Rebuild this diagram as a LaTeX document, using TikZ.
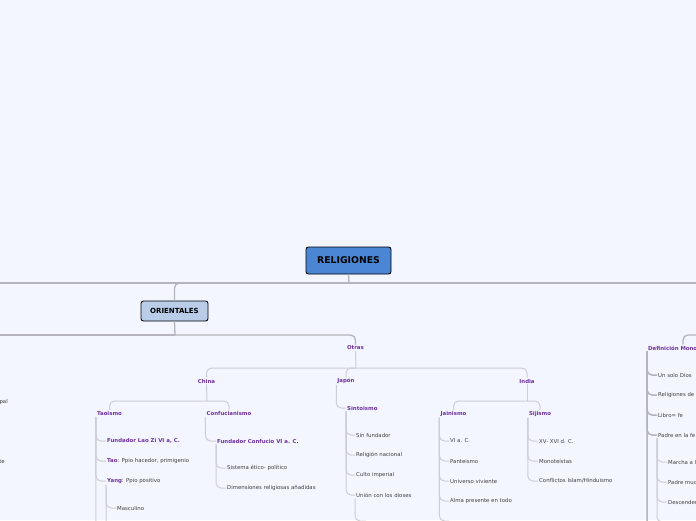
\documentclass[tikz,border=0pt]{standalone}
\usepackage{fontspec}
\setmainfont{DejaVu Sans}
\definecolor{bgc}{HTML}{F3F6FE}
\definecolor{purp}{HTML}{7030A0}
\definecolor{txt}{HTML}{404040}
\definecolor{lnmain}{HTML}{B4B4BA}
\definecolor{lnsub}{HTML}{CDCDD5}
\definecolor{relblue}{HTML}{4A86D4}
\definecolor{oriblue}{HTML}{B9CDE8}
\usetikzlibrary{positioning}

\begin{document}
\begin{tikzpicture}[x=1pt, y=-1pt,
    topic/.style={font=\fontsize{5.4}{6}\selectfont\bfseries, text=purp, inner sep=1pt},
    item/.style={font=\fontsize{5.4}{6}\selectfont, text=txt, inner sep=1pt, anchor=west},
    hub/.style={draw=black, line width=0.9pt, rounded corners=2.5pt, text=black},
    bar/.style={draw=lnmain, line width=1.3pt},
    sub/.style={draw=lnsub, line width=1pt},
    lnk/.style={draw=lnsub, line width=1pt, rounded corners=5pt}]
    % canvas
    \useasboundingbox (0,0) rectangle (696,520);
    \fill[bgc] (0,0) rectangle (696,520);
    \clip (0,0) rectangle (696,520);
    % hubs
    \node[hub, fill=relblue, minimum width=85pt, minimum height=27pt,
          font=\fontsize{9.3}{11}\selectfont\bfseries] (rel) at (348.5,260.5) {RELIGIONES};
    \node[hub, fill=oriblue, minimum width=67pt, minimum height=20pt,
          font=\fontsize{7}{8}\selectfont\bfseries] (ori) at (174.5,311) {ORIENTALES};
    % topics
    \node[topic] (otras) at (355.5,348) {Otras};
    \node[topic] (china) at (206.5,381) {China};
    \node[topic] (japon) at (346,381) {Japón};
    \node[topic] (india) at (527,381) {India};
    \node[topic] (tao) at (109.5,413.5) {Taoismo};
    \node[topic] (conf) at (229,413.5) {Confucianismo};
    \node[topic, anchor=west] (sinto) at (346,408) {Sintoismo};
    \node[topic] (jain) at (453.5,414) {Jainismo};
    \node[topic] (sij) at (540,414) {Sijismo};
    \node[topic, anchor=west] (defi) at (647,348) {Definición Monoteísmo};
    % Taoismo
    \node[topic, anchor=west] (fundlao) at (106,441) {Fundador Lao Zi VI a, C.};
    \node[item] (taot) at (106,461) {\textcolor{purp}{\bfseries Tao}: Ppio hacedor, primigenio};
    \node[item] (yang) at (106,481) {\textcolor{purp}{\bfseries Yang}: Ppio positivo};
    \node[item] (masc) at (116,508) {Masculino};
    % Confucianismo
    \node[topic, anchor=west] (fundcon) at (216,441) {Fundador Confucio VI a. C.};
    \node[item] (sist) at (226,468) {Sistema ético- político};
    \node[item] (dimen) at (226,488) {Dimensiones religiosas añadidas};
    % Sintoismo
    \node[item] (sinfun) at (355,435) {Sin fundador};
    \node[item] (relnac) at (355,455) {Religión nacional};
    \node[item] (culto) at (355,475) {Culto imperial};
    \node[item] (union) at (355,495) {Unión con los dioses};
    % Jainismo
    \node[item] (vi) at (449,441) {VI a. C.};
    \node[item] (pant) at (449,461) {Panteismo};
    \node[item] (univ) at (449,481) {Universo viviente};
    \node[item] (alma) at (449,501) {Alma presente en todo};
    % Sijismo
    \node[item] (xv) at (538,441) {XV- XVI d. C.};
    \node[item] (mono) at (538,461) {Monoteístas};
    \node[item] (confl) at (538,481) {Conflictos Islam/Hinduismo};
    % Monoteismo
    \node[item] (unsolo) at (657,375) {Un solo Dios};
    \node[item] (relde) at (657,395) {Religiones de};
    \node[item] (libro) at (657,415) {Libro= fe};
    \node[item] (padre) at (657,435) {Padre en la fe};
    \node[item] (marcha) at (667,462) {Marcha a l};
    \node[item] (padremuc) at (667,482) {Padre muc};
    \node[item] (desc) at (667,502) {Descender};
    % cut at the left edge
    \node[item, anchor=east] (pal) at (9,402) {pal};
    \node[item, anchor=east] (te) at (6,462) {te};
    % ends that leave the picture
    \coordinate (relbar) at (349,283);
    \coordinate (leftbr) at (-5,283);
    \coordinate (rightbr) at (705,283);
    \coordinate (oribar) at (175,335);
    \coordinate (orileft) at (-5,335);
    \coordinate (occbar) at (705,335);
    \coordinate (otrasbar) at (356,368);
    \coordinate (chinabar) at (207,401);
    \coordinate (indiabar) at (527,401);
    \coordinate (taomore) at (107,535);
    \coordinate (yangmore) at (117,535);
    \coordinate (unionmore) at (366,521);
    \coordinate (jainmore) at (449,521);
    \coordinate (defimore) at (657,535);
    \coordinate (padremore) at (667,522);
    % main bars
    \draw[bar] (rel.south) -- (relbar);
    \draw[bar] (relbar) -- (leftbr);
    \draw[bar] (relbar) -- (rightbr);
    \draw[bar, rounded corners=5pt] (relbar) -| (ori.north);
    \draw[bar] (ori.south) -- (oribar);
    \draw[bar] (oribar) -- (orileft);
    \draw[bar, rounded corners=5pt] (oribar) -| (otras.north);
    \draw[bar, rounded corners=5pt] (occbar) -| (defi.north);
    % Otras
    \draw[sub] (otras.south) -- (otrasbar);
    \foreach \c in {china,japon,india}
        \draw[lnk] (otrasbar) -| (\c.north);
    \draw[sub] (china.south) -- (chinabar);
    \draw[lnk] (chinabar) -| (tao.north);
    \draw[lnk] (chinabar) -| (conf.north);
    \draw[sub] (india.south) -- (indiabar);
    \draw[lnk] (indiabar) -| (jain.north);
    \draw[lnk] (indiabar) -| (sij.north);
    \draw[lnk] (japon.south west) |- (sinto.west);
    % lists
    \foreach \c in {fundlao,taot,yang,taomore}
        \draw[lnk] (tao.south west) |- (\c);
    \foreach \c in {masc,yangmore}
        \draw[lnk] (yang.south west) |- (\c);
    \draw[lnk] (conf.south west) |- (fundcon.west);
    \foreach \c in {sist,dimen}
        \draw[lnk] (fundcon.south west) |- (\c.west);
    \foreach \c in {sinfun,relnac,culto,union}
        \draw[lnk] (sinto.south west) |- (\c.west);
    \draw[lnk] (union.south west) |- (unionmore);
    \foreach \c in {vi,pant,univ,alma,jainmore}
        \draw[lnk] (jain.south west) |- (\c);
    \foreach \c in {xv,mono,confl}
        \draw[lnk] (sij.south west) |- (\c.west);
    \foreach \c in {unsolo,relde,libro,padre,defimore}
        \draw[lnk, draw=lnmain, line width=1.5pt] (defi.south west) |- (\c);
    \foreach \c in {marcha,padremuc,desc,padremore}
        \draw[lnk] (padre.south west) |- (\c);
\end{tikzpicture}
\end{document}
